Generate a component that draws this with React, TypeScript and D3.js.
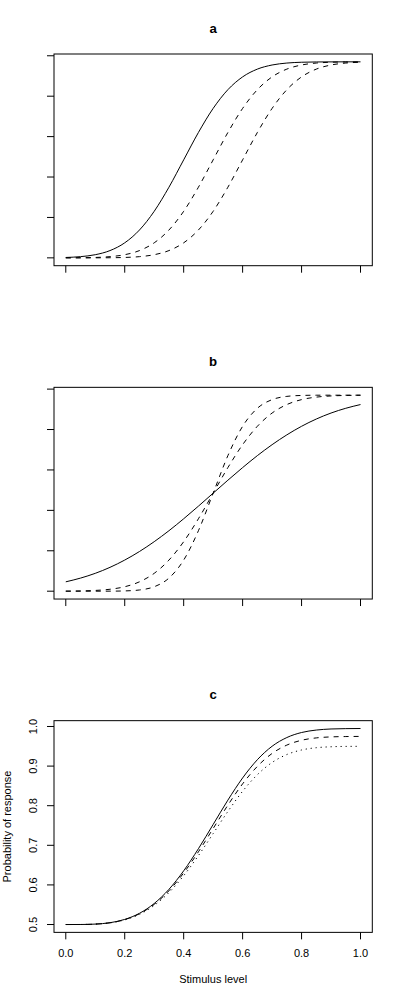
import * as d3 from "d3";

// stimulus levels the curves were read at
const xLevels = [
  0, 0.05, 0.1, 0.15, 0.2, 0.25, 0.3, 0.35, 0.4, 0.45, 0.5, 0.55, 0.6, 0.65, 0.7, 0.75, 0.8, 0.85, 0.9, 0.95, 1,
];

// panel a: same slope, shifted thresholds
const aSolid = [
  0.501, 0.503, 0.5078, 0.518, 0.5372, 0.5689, 0.6152, 0.6748, 0.7425, 0.8102, 0.8698, 0.9161, 0.9478, 0.967,
  0.9772, 0.982, 0.984, 0.9847, 0.9849, 0.985, 0.985,
];
const aDashedMid = [
  0.5001, 0.5003, 0.501, 0.503, 0.5078, 0.518, 0.5372, 0.5689, 0.6152, 0.6748, 0.7425, 0.8102, 0.8698, 0.9161,
  0.9478, 0.967, 0.9772, 0.982, 0.984, 0.9847, 0.9849,
];
const aDashedRight = [
  0.5, 0.5, 0.5001, 0.5003, 0.501, 0.503, 0.5078, 0.518, 0.5372, 0.5689, 0.6152, 0.6748, 0.7425, 0.8102, 0.8698,
  0.9161, 0.9478, 0.967, 0.9772, 0.982, 0.984,
];

// panel b: same threshold, different slopes
const bSolid = [
  0.5232, 0.5324, 0.5442, 0.559, 0.577, 0.5982, 0.6225, 0.6496, 0.6792, 0.7104, 0.7425, 0.7746, 0.8058, 0.8354,
  0.8625, 0.8868, 0.908, 0.926, 0.9408, 0.9526, 0.9618,
];
const bDashedShallow = [
  0.5002, 0.5007, 0.5019, 0.5048, 0.511, 0.5232, 0.5442, 0.577, 0.6225, 0.6792, 0.7425, 0.8058, 0.8625, 0.908,
  0.9408, 0.9618, 0.974, 0.9802, 0.9831, 0.9843, 0.9848,
];
const bDashedSteep = [
  0.5, 0.5, 0.5, 0.5001, 0.5007, 0.503, 0.511, 0.5324, 0.577, 0.6496, 0.7425, 0.8354, 0.908, 0.9526, 0.974, 0.982,
  0.9843, 0.9849, 0.985, 0.985, 0.985,
];

// panel c: different lapse rates
const cSolid = [
  0.5, 0.5001, 0.5011, 0.5046, 0.5129, 0.5283, 0.5531, 0.5888, 0.6356, 0.6914, 0.7526, 0.8141, 0.8701, 0.9161,
  0.9501, 0.9721, 0.9848, 0.991, 0.9937, 0.9946, 0.9949,
];
const cDashed = [
  0.5, 0.5001, 0.501, 0.5044, 0.5124, 0.5272, 0.551, 0.5852, 0.6302, 0.6836, 0.7424, 0.8014, 0.8552, 0.8993,
  0.9319, 0.953, 0.9652, 0.9712, 0.9737, 0.9746, 0.9749,
];
const cDotted = [
  0.5, 0.5001, 0.501, 0.5042, 0.5117, 0.5257, 0.5483, 0.5807, 0.6233, 0.674, 0.7296, 0.7855, 0.8365, 0.8783,
  0.9091, 0.9292, 0.9407, 0.9464, 0.9488, 0.9497, 0.9499,
];

const xTicks = [0, 0.2, 0.4, 0.6, 0.8, 1];
const yTicks = [0.5, 0.6, 0.7, 0.8, 0.9, 1];
const panelTitles = ["a", "b", "c"];
const xLabel = "Stimulus level";
const yLabel = "Probability of response";

const W = 400;
const H = 1000;
const PANEL_H = H / 3;
const BOX = { left: 54, right: 372.3, top: 54, bottom: 265.7 };
const FONT = "'Liberation Sans', Arial, Helvetica, sans-serif";
const SOLID = null;
const DASHED = "5,5";
const DOTTED = "1.2,3.8";

const panels = [
  { title: panelTitles[0], labelled: false, series: [{ values: aSolid, dash: SOLID }, { values: aDashedMid, dash: DASHED }, { values: aDashedRight, dash: DASHED }] },
  { title: panelTitles[1], labelled: false, series: [{ values: bSolid, dash: SOLID }, { values: bDashedShallow, dash: DASHED }, { values: bDashedSteep, dash: DASHED }] },
  { title: panelTitles[2], labelled: true, series: [{ values: cSolid, dash: SOLID }, { values: cDashed, dash: DASHED }, { values: cDotted, dash: DOTTED }] },
];

const padded = ([lo, hi]: number[]) => {
  const pad = (hi - lo) * 0.04;
  return [lo - pad, hi + pad];
};

function Panel({ index, title, series, labelled }: any) {
  const top = index * PANEL_H;
  const x = d3.scaleLinear().domain(padded(d3.extent(xLevels) as number[])).range([BOX.left, BOX.right]);
  const all = series.flatMap((s: any) => s.values);
  const y = d3
    .scaleLinear()
    .domain(padded(d3.extent(all) as number[]))
    .range([top + BOX.bottom, top + BOX.top]);
  const line = d3
    .line<number>()
    .x((_, i) => x(xLevels[i]))
    .y((d) => y(d))
    .curve(d3.curveMonotoneX);
  const fmt = d3.format(".1f");
  const midY = (y.range()[0] + y.range()[1]) / 2;

  return (
    <g>
      <text x={(BOX.left + BOX.right) / 2} y={top + 32.5} textAnchor="middle" fontWeight="bold" fontSize={13.2}>
        {title}
      </text>

      {series.map((s: any, i: number) => (
        <path key={i} d={line(s.values) || ""} fill="none" stroke="#000" strokeWidth={1} strokeDasharray={s.dash || undefined} />
      ))}

      <rect
        x={BOX.left}
        y={top + BOX.top}
        width={BOX.right - BOX.left}
        height={BOX.bottom - BOX.top}
        fill="none"
        stroke="#000"
        strokeWidth={1}
      />

      {xTicks.map((t) => (
        <g key={`x${t}`}>
          <line x1={x(t)} x2={x(t)} y1={top + BOX.bottom} y2={top + BOX.bottom + 7} stroke="#000" />
          {labelled && (
            <text x={x(t)} y={top + BOX.bottom + 24.8} textAnchor="middle" fontSize={11}>
              {fmt(t)}
            </text>
          )}
        </g>
      ))}

      {yTicks.map((t) => (
        <g key={`y${t}`}>
          <line x1={BOX.left - 7} x2={BOX.left} y1={y(t)} y2={y(t)} stroke="#000" />
          {labelled && (
            <text transform={`translate(37.3,${y(t)}) rotate(-90)`} textAnchor="middle" fontSize={11}>
              {fmt(t)}
            </text>
          )}
        </g>
      ))}

      {labelled && (
        <>
          <text x={(BOX.left + BOX.right) / 2} y={top + 316.6} textAnchor="middle" fontSize={11}>
            {xLabel}
          </text>
          <text transform={`translate(11,${midY}) rotate(-90)`} textAnchor="middle" fontSize={11}>
            {yLabel}
          </text>
        </>
      )}
    </g>
  );
}

export default function App() {
  return (
    <svg
      width={W}
      height={H}
      viewBox={`0 0 ${W} ${H}`}
      style={{ position: "absolute", left: 0, top: 0, background: "#fff" }}
      fontFamily={FONT}
    >
      <rect width={W} height={H} fill="#fff" />
      {panels.map((p, i) => (
        <Panel key={p.title} index={i} {...p} />
      ))}
    </svg>
  );
}
